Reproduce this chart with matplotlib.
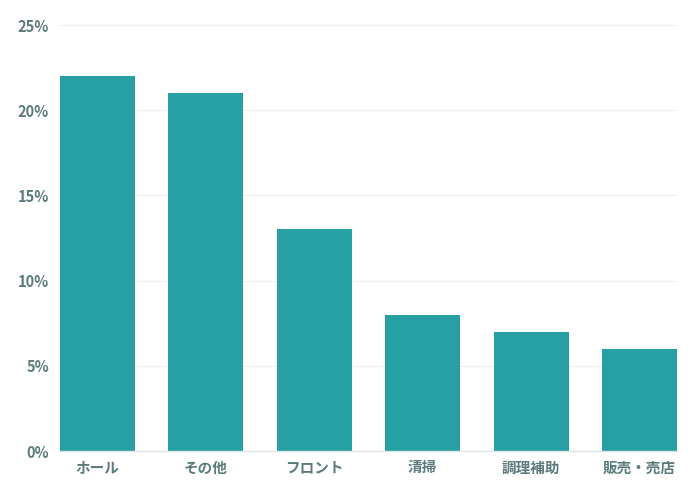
import numpy as np
import matplotlib.pyplot as plt
from matplotlib.ticker import PercentFormatter

plt.rcParams['font.family'] = ['Noto Sans CJK JP', 'DejaVu Sans']

categories = ['ホール', 'その他', 'フロント', '清掃', '調理補助', '販売・売店']
values = [22, 21, 13, 8, 7, 6]
yticks = [0, 5, 10, 15, 20, 25]

bar_color = '#26a0a3'
text_color = '#5b7b7b'

fig = plt.figure(figsize=(6.95, 5), dpi=100)
ax = fig.add_axes([60 / 695, 49 / 500, 617 / 695, 426 / 500])

x = np.arange(len(categories))
ax.bar(x, values, width=0.69, color=bar_color, edgecolor='none', zorder=3)
ax.set_xlim(-0.345, len(categories) - 1 + 0.345)
ax.set_ylim(0, 25)
ax.set_yticks(yticks)
ax.yaxis.set_major_formatter(PercentFormatter(decimals=0))
ax.set_xticks(x)
ax.set_xticklabels(categories)

ax.grid(axis='y', color='#eeeeee', linewidth=0.8, zorder=0)
for s in ['top', 'right', 'left']:
    ax.spines[s].set_visible(False)
ax.spines['bottom'].set_color('#dde6e6')
ax.spines['bottom'].set_linewidth(1.0)
ax.spines['bottom'].set_zorder(4)

ax.tick_params(axis='both', length=0, colors=text_color, labelsize=10.5)
ax.tick_params(axis='y', pad=8)
ax.tick_params(axis='x', pad=6)
for lab in ax.get_xticklabels() + ax.get_yticklabels():
    lab.set_fontweight('bold')

fig.savefig('out.png', dpi=100)
